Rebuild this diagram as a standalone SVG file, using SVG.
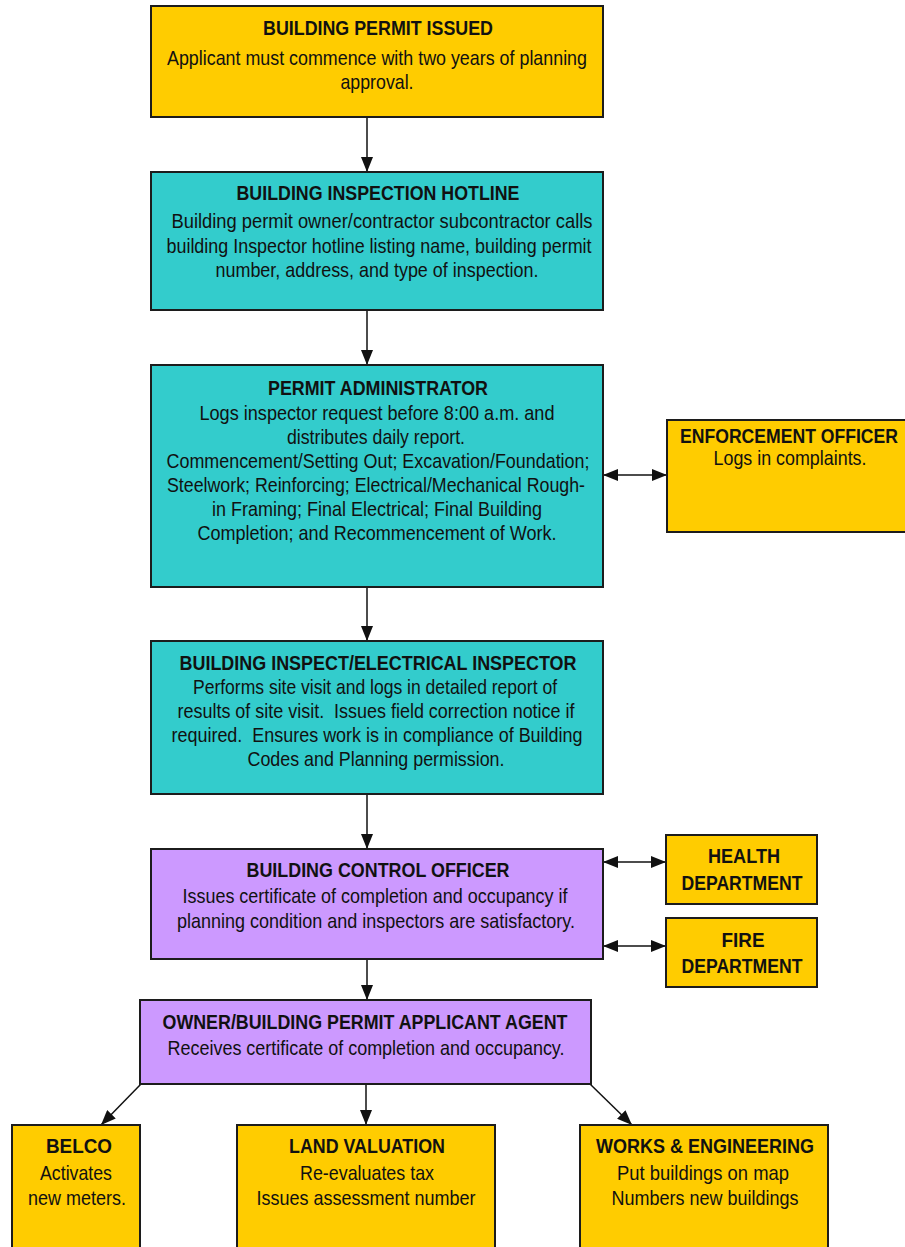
<svg xmlns="http://www.w3.org/2000/svg" width="905" height="1247" viewBox="0 0 905 1247">
<style>
.box{stroke:#1c1c1c;stroke-width:2}
.y{fill:#FFCC00}.c{fill:#33CCCC}.p{fill:#CC99FF}
text{font-family:"Liberation Sans",Arial,sans-serif;font-size:21px;fill:#111;text-anchor:middle}
.t{font-weight:bold}
.cn{stroke:#111;stroke-width:1.5;fill:none}
</style>
<defs>
<marker id="ah" markerUnits="userSpaceOnUse" markerWidth="15" markerHeight="12" refX="15" refY="6" orient="auto-start-reverse"><path d="M0,0 L15,6 L0,12 z" fill="#111"/></marker>
</defs>
<rect width="905" height="1247" fill="#fff"/>
<g id="connectors">
<line class="cn" x1="367" y1="117" x2="367" y2="172" marker-end="url(#ah)"/>
<line class="cn" x1="367" y1="310" x2="367" y2="365" marker-end="url(#ah)"/>
<line class="cn" x1="367" y1="587" x2="367" y2="641" marker-end="url(#ah)"/>
<line class="cn" x1="367" y1="794" x2="367" y2="849" marker-end="url(#ah)"/>
<line class="cn" x1="367" y1="959" x2="367" y2="1000" marker-end="url(#ah)"/>
<line class="cn" x1="603" y1="475" x2="667" y2="475" marker-start="url(#ah)" marker-end="url(#ah)"/>
<line class="cn" x1="603" y1="862" x2="666" y2="862" marker-start="url(#ah)" marker-end="url(#ah)"/>
<line class="cn" x1="603" y1="946" x2="666" y2="946" marker-start="url(#ah)" marker-end="url(#ah)"/>
<line class="cn" x1="141" y1="1084" x2="101" y2="1125" marker-end="url(#ah)"/>
<line class="cn" x1="366" y1="1084" x2="366" y2="1125" marker-end="url(#ah)"/>
<line class="cn" x1="590" y1="1084" x2="632" y2="1125" marker-end="url(#ah)"/>
</g>
<g id="permit-issued">
<rect class="box y" x="151" y="6" width="452" height="111"/>
<text class="t" x="378" y="35" textLength="230" lengthAdjust="spacingAndGlyphs">BUILDING PERMIT ISSUED</text>
<text x="377" y="65" textLength="420" lengthAdjust="spacingAndGlyphs">Applicant must commence with two years of planning</text>
<text x="377" y="89" textLength="73" lengthAdjust="spacingAndGlyphs">approval.</text>
</g>
<g id="hotline">
<rect class="box c" x="151" y="172" width="452" height="138"/>
<text class="t" x="378" y="200" textLength="283" lengthAdjust="spacingAndGlyphs">BUILDING INSPECTION HOTLINE</text>
<text x="382" y="228" textLength="421" lengthAdjust="spacingAndGlyphs">Building permit owner/contractor subcontractor calls</text>
<text x="379" y="253" textLength="425" lengthAdjust="spacingAndGlyphs">building Inspector hotline listing name, building permit</text>
<text x="377" y="277" textLength="323" lengthAdjust="spacingAndGlyphs">number, address, and type of inspection.</text>
</g>
<g id="permit-admin">
<rect class="box c" x="151" y="365" width="452" height="222"/>
<text class="t" x="378" y="395" textLength="220" lengthAdjust="spacingAndGlyphs">PERMIT ADMINISTRATOR</text>
<text x="377" y="420" textLength="355" lengthAdjust="spacingAndGlyphs">Logs inspector request before 8:00 a.m. and</text>
<text x="376" y="444" textLength="178" lengthAdjust="spacingAndGlyphs">distributes daily report.</text>
<text x="378" y="468" textLength="423" lengthAdjust="spacingAndGlyphs">Commencement/Setting Out; Excavation/Foundation;</text>
<text x="376" y="492" textLength="418" lengthAdjust="spacingAndGlyphs">Steelwork; Reinforcing; Electrical/Mechanical Rough-</text>
<text x="377" y="516" textLength="330" lengthAdjust="spacingAndGlyphs">in Framing; Final Electrical; Final Building</text>
<text x="377" y="540" textLength="359" lengthAdjust="spacingAndGlyphs">Completion; and Recommencement of Work.</text>
</g>
<g id="enforcement">
<rect class="box y" x="667" y="420" width="250" height="112"/>
<text class="t" x="789" y="443" textLength="218" lengthAdjust="spacingAndGlyphs">ENFORCEMENT OFFICER</text>
<text x="790" y="465" textLength="153" lengthAdjust="spacingAndGlyphs">Logs in complaints.</text>
</g>
<g id="inspector">
<rect class="box c" x="151" y="641" width="452" height="153"/>
<text class="t" x="378" y="670" textLength="397" lengthAdjust="spacingAndGlyphs">BUILDING INSPECT/ELECTRICAL INSPECTOR</text>
<text x="375" y="694" textLength="364" lengthAdjust="spacingAndGlyphs">Performs site visit and logs in detailed report of</text>
<text x="376" y="718" textLength="397" lengthAdjust="spacingAndGlyphs">results of site visit.&#160; Issues field correction notice if</text>
<text x="377" y="742" textLength="411" lengthAdjust="spacingAndGlyphs">required.&#160; Ensures work is in compliance of Building</text>
<text x="376" y="766" textLength="257" lengthAdjust="spacingAndGlyphs">Codes and Planning permission.</text>
</g>
<g id="control-officer">
<rect class="box p" x="151" y="849" width="452" height="110"/>
<text class="t" x="378" y="877" textLength="263" lengthAdjust="spacingAndGlyphs">BUILDING CONTROL OFFICER</text>
<text x="375" y="903" textLength="385" lengthAdjust="spacingAndGlyphs">Issues certificate of completion and occupancy if</text>
<text x="376" y="928" textLength="398" lengthAdjust="spacingAndGlyphs">planning condition and inspectors are satisfactory.</text>
</g>
<g id="health">
<rect class="box y" x="666" y="835" width="151" height="69"/>
<text class="t" x="744" y="863" textLength="72" lengthAdjust="spacingAndGlyphs">HEALTH</text>
<text class="t" x="742" y="890" textLength="121" lengthAdjust="spacingAndGlyphs">DEPARTMENT</text>
</g>
<g id="fire">
<rect class="box y" x="666" y="918" width="151" height="69"/>
<text class="t" x="743" y="947" textLength="43" lengthAdjust="spacingAndGlyphs">FIRE</text>
<text class="t" x="742" y="973" textLength="121" lengthAdjust="spacingAndGlyphs">DEPARTMENT</text>
</g>
<g id="owner">
<rect class="box p" x="140" y="1000" width="451" height="84"/>
<text class="t" x="365" y="1029" textLength="405" lengthAdjust="spacingAndGlyphs">OWNER/BUILDING PERMIT APPLICANT AGENT</text>
<text x="366" y="1055" textLength="397" lengthAdjust="spacingAndGlyphs">Receives certificate of completion and occupancy.</text>
</g>
<g id="belco">
<rect class="box y" x="12" y="1125" width="128" height="140"/>
<text class="t" x="79" y="1153" textLength="66" lengthAdjust="spacingAndGlyphs">BELCO</text>
<text x="76" y="1180" textLength="72" lengthAdjust="spacingAndGlyphs">Activates</text>
<text x="77" y="1205" textLength="98" lengthAdjust="spacingAndGlyphs">new meters.</text>
</g>
<g id="land-valuation">
<rect class="box y" x="237" y="1125" width="258" height="140"/>
<text class="t" x="367" y="1153" textLength="156" lengthAdjust="spacingAndGlyphs">LAND VALUATION</text>
<text x="367" y="1180" textLength="134" lengthAdjust="spacingAndGlyphs">Re-evaluates tax</text>
<text x="366" y="1205" textLength="219" lengthAdjust="spacingAndGlyphs">Issues assessment number</text>
</g>
<g id="works">
<rect class="box y" x="580" y="1125" width="248" height="140"/>
<text class="t" x="705" y="1153" textLength="218" lengthAdjust="spacingAndGlyphs">WORKS &amp; ENGINEERING</text>
<text x="703" y="1180" textLength="172" lengthAdjust="spacingAndGlyphs">Put buildings on map</text>
<text x="705" y="1205" textLength="187" lengthAdjust="spacingAndGlyphs">Numbers new buildings</text>
</g>
</svg>
